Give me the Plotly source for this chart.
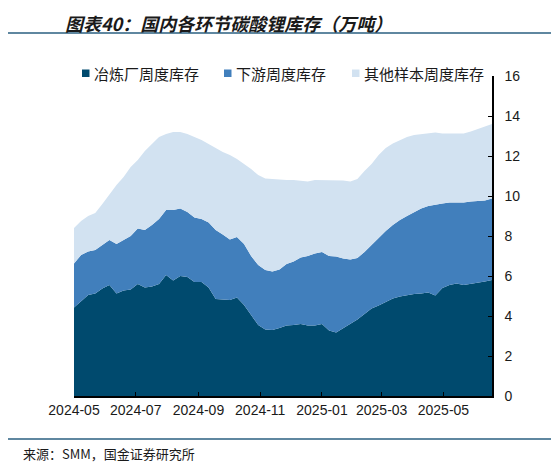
import pandas as pd
import plotly.graph_objects as go

# weekly inventory, 10k tonnes
weeks = pd.date_range("2024-05-01", periods=60, freq="7D")

smelter = [
    4.43, 4.75, 5.05, 5.13, 5.38, 5.55, 5.13, 5.27, 5.33, 5.60,
    5.43, 5.47, 5.60, 6.05, 5.78, 6.00, 5.95, 5.70, 5.70, 5.42,
    4.85, 4.82, 4.80, 4.93, 4.55, 4.05, 3.55, 3.32, 3.30, 3.40,
    3.52, 3.55, 3.60, 3.52, 3.52, 3.60, 3.27, 3.18, 3.40, 3.63,
    3.83, 4.10, 4.38, 4.52, 4.68, 4.88, 4.97, 5.05, 5.10, 5.12,
    5.18, 5.02, 5.40, 5.55, 5.62, 5.55, 5.60, 5.67, 5.73, 5.80,
]
downstream = [
    2.20, 2.30, 2.17, 2.17, 2.17, 2.25, 2.47, 2.53, 2.67, 2.78,
    2.87, 3.08, 3.25, 3.25, 3.52, 3.37, 3.25, 3.23, 3.15, 3.26,
    3.45, 3.26, 3.03, 3.02, 3.05, 2.95, 3.00, 2.98, 2.92, 2.93,
    3.08, 3.17, 3.32, 3.48, 3.61, 3.60, 3.73, 3.79, 3.48, 3.20,
    3.07, 3.10, 3.17, 3.43, 3.57, 3.67, 3.83, 3.95, 4.10, 4.26,
    4.32, 4.55, 4.23, 4.12, 4.05, 4.13, 4.13, 4.08, 4.05, 4.08,
]
others = [
    1.77, 1.70, 1.78, 1.85, 2.05, 2.30, 2.95, 3.15, 3.45, 3.42,
    3.95, 4.05, 4.10, 3.80, 3.90, 3.83, 3.90, 4.02, 3.95, 3.92,
    4.10, 4.12, 4.22, 3.90, 4.00, 4.35, 4.50, 4.58, 4.63, 4.49,
    4.20, 4.08, 3.86, 3.73, 3.67, 3.60, 3.80, 3.83, 3.89, 3.90,
    3.95, 4.05, 4.05, 4.10, 4.15, 4.07, 4.00, 3.95, 3.85, 3.72,
    3.63, 3.60, 3.50, 3.46, 3.46, 3.45, 3.49, 3.60, 3.67, 3.72,
]

names = ["冶炼厂周度库存", "下游周度库存", "其他样本周度库存"]
colors = ["#004A6E", "#417FBC", "#D2E2F1"]

tick_months = ["2024-05", "2024-07", "2024-09", "2024-11", "2025-01", "2025-03", "2025-05"]

# page body has an 8px margin, so the figure is drawn 8px smaller
OFF = 8
W, H = 559 - OFF, 467 - OFF
# plot box in page pixels: x 74..492, y 76..396
L, R, T, B = 74, 492, 76, 396


def px(x):
    return (x - L) / (R - L)


def py(y):
    return (B - y) / (B - T)


fig = go.Figure()
for name, vals, c in zip(names, [smelter, downstream, others], colors):
    fig.add_trace(go.Scatter(
        x=weeks, y=vals, name=name, mode="lines",
        stackgroup="one", line=dict(width=0, color=c), fillcolor=c,
    ))

fig.update_layout(
    width=W, height=H,
    margin=dict(l=L - OFF, r=559 - R, t=T - OFF, b=467 - B, autoexpand=False),
    paper_bgcolor="white", plot_bgcolor="white",
    font=dict(family="Liberation Sans, Arial", size=14, color="#1a1a1a"),
    showlegend=False,
    xaxis=dict(
        type="date", range=[weeks[0], weeks[-1]],
        tickvals=[m + "-01" for m in tick_months], ticktext=tick_months,
        ticks="inside", ticklen=4, tickcolor="black",
        showline=True, linecolor="black", linewidth=1.5,
        showgrid=False, zeroline=False,
        tickfont=dict(size=14, color="#1a1a1a"),
    ),
    yaxis=dict(
        side="right", range=[0, 16], dtick=2,
        ticks="inside", ticklen=4, tickcolor="black",
        showline=True, linecolor="black", linewidth=1.5,
        showgrid=False, zeroline=False, ticklabelstandoff=8,
        tickfont=dict(size=14, color="#1a1a1a"),
    ),
)

# legend drawn as squares + labels, laid out like the original
legend_sq = [82, 224, 352]
for name, c, x0 in zip(names, colors, legend_sq):
    fig.add_shape(type="rect", xref="paper", yref="paper",
                  x0=px(x0), x1=px(x0 + 7.5), y0=py(77), y1=py(69.5),
                  fillcolor=c, line=dict(width=0))
    fig.add_annotation(text=name, xref="paper", yref="paper",
                       x=px(x0 + 10), y=py(73.5), xanchor="left", yanchor="middle",
                       showarrow=False,
                       font=dict(family="Noto Sans CJK SC", size=15, color="#1a1a1a"))

# title, rules and source note
fig.add_annotation(
    text="<b><i>图表40：国内各环节碳酸锂库存（万吨）</i></b>",
    xref="paper", yref="paper", x=px(64), y=py(OFF + 0.5),
    xanchor="left", yanchor="top", showarrow=False, borderpad=0,
    font=dict(family="Noto Sans CJK SC", size=18, color="#1a1a1a"),
)
for yline in (33, 439):
    fig.add_shape(type="line", xref="paper", yref="paper",
                  x0=px(OFF), x1=px(553), y0=py(yline), y1=py(yline),
                  line=dict(color="#2A5F80", width=1.5))
fig.add_annotation(
    text="来源：SMM，国金证券研究所",
    xref="paper", yref="paper", x=px(21), y=py(453.5),
    xanchor="left", yanchor="middle", showarrow=False,
    font=dict(family="Noto Sans CJK SC", size=13, color="#1a1a1a"),
)

fig.write_html("out.html")
